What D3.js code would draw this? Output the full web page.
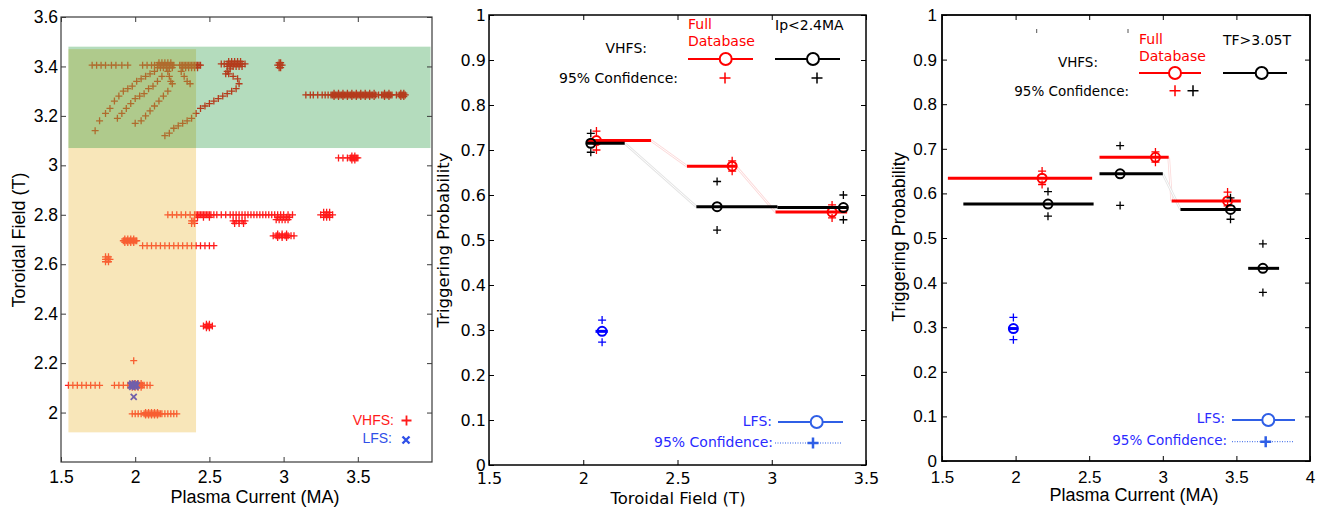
<!DOCTYPE html>
<html>
<head>
<meta charset="utf-8">
<style>
  body { margin: 0; background: #fff; }
  svg { display: block; }
</style>
</head>
<body>
<div id="elm"></div>
<script src="https://d3js.org/d3.v7.min.js"></script>
<script>
'use strict';

var width = 1324, height = 511;

// ---------- left panel: shots in (Ip, TF) ----------
// rows of VHFS shots: [TF, [Ip values]]
var vhfsRows = [
  [3.405, [1.71, 1.74, 1.77, 1.80, 1.84, 1.87, 1.91, 1.95]],
  [3.405, [2.05, 2.08, 2.11, 2.13, 2.15, 2.16, 2.17, 2.18, 2.19, 2.20, 2.21, 2.22, 2.23, 2.24, 2.25, 2.26]],
  [3.395, [2.15, 2.17, 2.19, 2.21, 2.23, 2.25]],
  [3.415, [2.16, 2.18, 2.20, 2.22, 2.24]],
  [3.405, [2.30, 2.31, 2.32, 2.33, 2.34, 2.35, 2.36, 2.37, 2.38, 2.39, 2.40, 2.41, 2.42, 2.43, 2.44]],
  [3.395, [2.32, 2.34, 2.36, 2.38, 2.40, 2.42]],
  [3.41, [2.58, 2.60, 2.62, 2.63, 2.64, 2.65, 2.66, 2.67, 2.68, 2.69, 2.70, 2.71, 2.72, 2.74]],
  [3.40, [2.62, 2.64, 2.66, 2.68, 2.70, 2.72]],
  [3.42, [2.63, 2.65, 2.67, 2.69, 2.71]],
  [3.405, [2.96, 2.97, 2.98, 2.99]],
  [3.395, [2.97, 2.98]],
  [3.415, [2.97, 2.98]],
  [3.285, [3.15, 3.18, 3.20, 3.23, 3.26, 3.28, 3.30, 3.32, 3.33, 3.34, 3.35, 3.36, 3.37, 3.38, 3.39, 3.40, 3.41, 3.42, 3.43, 3.44, 3.45, 3.46, 3.47, 3.48, 3.49, 3.50, 3.51, 3.52, 3.53, 3.54, 3.55, 3.56, 3.57, 3.58, 3.59, 3.60, 3.62, 3.64, 3.66, 3.67, 3.68, 3.69, 3.70, 3.71, 3.72, 3.73, 3.76, 3.78, 3.79, 3.80, 3.81, 3.82]],
  [3.278, [3.34, 3.37, 3.40, 3.43, 3.46, 3.49, 3.52, 3.55, 3.58, 3.61, 3.68, 3.71, 3.79, 3.81]],
  [3.292, [3.34, 3.37, 3.40, 3.43, 3.46, 3.49, 3.52, 3.55, 3.58, 3.61, 3.68, 3.71, 3.79, 3.81]],
  [3.03, [3.37, 3.40, 3.43, 3.45, 3.46, 3.47, 3.48, 3.49, 3.50]],
  [3.022, [3.46, 3.48]],
  [3.038, [3.46, 3.48]],
  [2.80, [2.22, 2.25, 2.28, 2.31, 2.34, 2.37, 2.40, 2.41, 2.42, 2.43, 2.44, 2.45, 2.46, 2.47, 2.48, 2.49, 2.50, 2.51, 2.53, 2.55, 2.58, 2.61, 2.64, 2.66, 2.68, 2.70, 2.72, 2.74, 2.76, 2.78, 2.80, 2.82, 2.84, 2.86, 2.88, 2.90, 2.92, 2.94, 2.96, 2.98, 3.00, 3.03, 3.06]],
  [2.79, [2.42, 2.46, 2.50, 2.96, 2.98, 3.00, 3.02, 3.04]],
  [2.78, [2.95, 2.97, 2.99, 3.01, 3.03]],
  [2.775, [2.38, 2.39, 2.40, 2.66, 2.68, 2.70, 2.72, 2.74]],
  [2.765, [2.38, 2.40, 2.67, 2.70, 2.73]],
  [2.80, [3.25, 3.27, 3.28, 3.29, 3.30, 3.31, 3.33]],
  [2.79, [3.27, 3.29, 3.31]],
  [2.81, [3.27, 3.29, 3.31]],
  [2.715, [2.93, 2.95, 2.97, 2.99, 3.01, 3.03, 3.05, 3.07]],
  [2.708, [2.96, 2.99, 3.02]],
  [2.722, [2.96, 2.99, 3.02]],
  [2.695, [1.92, 1.93, 1.94, 1.95, 1.96, 1.97, 1.98, 1.99, 2.00, 2.01]],
  [2.688, [1.93, 1.95, 1.97, 1.99]],
  [2.702, [1.93, 1.95, 1.97, 1.99]],
  [2.675, [2.05, 2.08, 2.11, 2.14, 2.17, 2.20, 2.23, 2.26, 2.29, 2.32, 2.35, 2.38, 2.41, 2.44, 2.47, 2.50, 2.53]],
  [2.62, [1.80, 1.81, 1.82, 1.83]],
  [2.61, [1.80, 1.82]],
  [2.63, [1.80, 1.82]],
  [2.35, [2.46, 2.48, 2.49, 2.50, 2.52]],
  [2.343, [2.48, 2.50]],
  [2.357, [2.48, 2.50]],
  [2.21, [1.99]],
  [2.11, [1.55, 1.58, 1.61, 1.64, 1.67, 1.70, 1.73, 1.76, 1.86, 1.89, 1.92, 1.95, 1.97, 1.98, 1.99, 2.00, 2.01, 2.02, 2.03, 2.04, 2.05, 2.06, 2.08, 2.10]],
  [2.118, [1.98, 2.00, 2.02, 2.04]],
  [2.102, [1.98, 2.00, 2.02, 2.04]],
  [1.995, [1.98, 2.00, 2.02, 2.04, 2.06, 2.07, 2.08, 2.09, 2.10, 2.11, 2.12, 2.13, 2.14, 2.15, 2.16, 2.17, 2.18, 2.20, 2.22, 2.24, 2.26, 2.28]],
  [1.99, [2.07, 2.09, 2.11, 2.13, 2.15]],
  [2.00, [2.07, 2.09, 2.11, 2.13, 2.15]]
];

// ramp-up trails of VHFS shots: [Ip, TF]
var vhfsTrails = [
  [1.73, 3.14], [1.76, 3.18], [1.80, 3.21], [1.83, 3.23], [1.86, 3.26], [1.89, 3.28], [1.92, 3.30],
  [1.95, 3.31], [1.98, 3.32], [2.01, 3.34], [2.04, 3.35], [2.07, 3.36], [2.10, 3.37], [2.13, 3.38],
  [1.88, 3.19], [1.91, 3.21], [1.94, 3.23], [1.97, 3.25], [2.00, 3.27], [2.03, 3.28], [2.06, 3.29],
  [2.09, 3.31], [2.12, 3.32], [2.15, 3.34], [2.18, 3.36],
  [2.00, 3.17], [2.04, 3.18], [2.07, 3.20], [2.10, 3.22], [2.13, 3.24], [2.16, 3.26], [2.19, 3.28], [2.22, 3.30],
  [2.22, 3.38], [2.23, 3.36], [2.24, 3.34], [2.25, 3.33],
  [2.31, 3.38], [2.33, 3.36], [2.35, 3.34], [2.37, 3.33],
  [2.20, 3.12], [2.23, 3.13], [2.26, 3.15], [2.29, 3.16], [2.32, 3.17], [2.35, 3.18], [2.38, 3.19],
  [2.41, 3.21], [2.44, 3.23], [2.47, 3.24], [2.50, 3.25], [2.53, 3.26], [2.56, 3.27], [2.59, 3.28],
  [2.62, 3.29], [2.65, 3.30], [2.68, 3.31], [2.70, 3.33], [2.69, 3.35], [2.66, 3.36], [2.63, 3.37],
  [2.61, 3.37], [2.62, 3.38], [2.64, 3.39]
];

var lfsShots = [
  [1.97, 2.11], [1.98, 2.11], [1.99, 2.11], [2.00, 2.11], [2.01, 2.11],
  [1.98, 2.104], [2.00, 2.104], [1.98, 2.117], [2.00, 2.117], [1.99, 2.063]
];

// shaded subsets: [Ip0, Ip1, TF0, TF1]
var shadeLowIp = [1.55, 2.41, 1.92, 3.47];
var shadeHighTf = [1.55, 3.99, 3.07, 3.48];

// ---------- middle panel: probability vs toroidal field ----------
var tfFull = [
  { x0: 2.02, x1: 2.36, p: 0.721, xc: 2.07, lo: 0.700, hi: 0.742 },
  { x0: 2.55, x1: 2.81, p: 0.664, xc: 2.79, lo: 0.653, hi: 0.676 },
  { x0: 3.02, x1: 3.40, p: 0.562, xc: 3.32, lo: 0.549, hi: 0.578 }
];
var tfLowIp = [
  { x0: 2.02, x1: 2.22, p: 0.715, xc: 2.04, lo: 0.695, hi: 0.737 },
  { x0: 2.60, x1: 3.03, p: 0.574, xc: 2.71, lo: 0.522, hi: 0.630 },
  { x0: 3.03, x1: 3.40, p: 0.572, xc: 3.38, lo: 0.545, hi: 0.600 }
];
var tfLfs = [
  { x0: 2.065, x1: 2.13, p: 0.297, xc: 2.10, lo: 0.273, hi: 0.322 }
];

// ---------- right panel: probability vs plasma current ----------
var ipFull = [
  { x0: 1.54, x1: 2.52, p: 0.634, xc: 2.18, lo: 0.620, hi: 0.650 },
  { x0: 2.57, x1: 3.04, p: 0.681, xc: 2.95, lo: 0.670, hi: 0.693 },
  { x0: 3.06, x1: 3.53, p: 0.583, xc: 3.44, lo: 0.572, hi: 0.603 }
];
var ipHighTf = [
  { x0: 1.645, x1: 2.53, p: 0.576, xc: 2.22, lo: 0.549, hi: 0.604 },
  { x0: 2.57, x1: 3.00, p: 0.644, xc: 2.71, lo: 0.573, hi: 0.707 },
  { x0: 3.12, x1: 3.53, p: 0.564, xc: 3.46, lo: 0.542, hi: 0.590 },
  { x0: 3.58, x1: 3.79, p: 0.432, xc: 3.68, lo: 0.378, hi: 0.487 }
];
var ipLfs = [
  { x0: 1.95, x1: 2.01, p: 0.297, xc: 1.985, lo: 0.272, hi: 0.322 }
];

var probTicks = [0, 0.1, 0.2, 0.3, 0.4, 0.5, 0.6, 0.7, 0.8, 0.9, 1];

var RED = '#ff0000', BLUE = '#0000ff', LBLUE = '#2f5fe6';
var DEJAVU = '"DejaVu Sans", sans-serif', ARIAL = '"Liberation Sans", Arial, sans-serif';

var svg = d3.select('#elm').append('svg').attr('width', width).attr('height', height);

function plus(a) { return 'M' + (-a) + ',0H' + a + 'M0,' + (-a) + 'V' + a; }
function cross(a) { return 'M' + (-a) + ',' + (-a) + 'L' + a + ',' + a + 'M' + (-a) + ',' + a + 'L' + a + ',' + (-a); }
function fmt(d) { return String(+d.toFixed(2)); }

function panel(o) {
  var g = svg.append('g').attr('transform', 'translate(' + o.left + ',' + o.top + ')');
  var x = d3.scaleLinear().domain(o.xd).range([0, o.w]);
  var y = d3.scaleLinear().domain(o.yd).range([o.h, 0]);
  return { g: g, x: x, y: y, w: o.w, h: o.h };
}

function frame(p, s) {
  var axes = p.g.append('g');
  axes.append('g').attr('transform', 'translate(0,' + p.h + ')')
    .call(d3.axisBottom(p.x).tickValues(s.xt).tickFormat(fmt).tickSize(-5).tickPadding(s.xpad));
  axes.append('g')
    .call(d3.axisTop(p.x).tickValues(s.xt).tickFormat(function() { return ''; }).tickSize(-5));
  axes.append('g')
    .call(d3.axisLeft(p.y).tickValues(s.yt).tickFormat(fmt).tickSize(-5).tickPadding(s.ypad));
  axes.append('g').attr('transform', 'translate(' + p.w + ',0)')
    .call(d3.axisRight(p.y).tickValues(s.yt).tickFormat(function() { return ''; }).tickSize(-5));
  axes.selectAll('.domain').remove();
  axes.selectAll('.tick line').attr('stroke', s.color);
  axes.selectAll('text').attr('font-family', s.font).attr('font-size', s.size).attr('fill', '#000');
  p.g.append('rect').attr('width', p.w).attr('height', p.h)
    .attr('fill', 'none').attr('stroke', s.color).attr('stroke-width', s.sw);
}

function label(p, s) {
  svg.append('text').attr('x', s.x[0]).attr('y', s.x[1]).attr('text-anchor', 'middle')
    .attr('font-family', s.font).attr('font-size', s.size).text(s.xText);
  svg.append('text').attr('transform', 'translate(' + s.y[0] + ',' + s.y[1] + ') rotate(-90)')
    .attr('text-anchor', 'middle').attr('font-family', s.font).attr('font-size', s.size).text(s.yText);
}

// faint double guide lines between consecutive bins
function links(p, data, pairs, color) {
  pairs.forEach(function(pr) {
    var a = data[pr[0]], b = data[pr[1]];
    [[color, 2.6], ['#fff', 1]].forEach(function(st) {
      p.g.append('line')
        .attr('x1', p.x(a.x1)).attr('y1', p.y(a.p)).attr('x2', p.x(b.x0)).attr('y2', p.y(b.p))
        .attr('stroke', st[0]).attr('stroke-width', st[1]);
    });
  });
}

function bins(p, data, color) {
  var g = p.g.append('g');
  g.selectAll('line').data(data).enter().append('line')
    .attr('x1', function(d) { return p.x(d.x0); }).attr('x2', function(d) { return p.x(d.x1); })
    .attr('y1', function(d) { return p.y(d.p); }).attr('y2', function(d) { return p.y(d.p); })
    .attr('stroke', color).attr('stroke-width', 3);
  g.selectAll('circle').data(data).enter().append('circle')
    .attr('cx', function(d) { return p.x(d.xc); }).attr('cy', function(d) { return p.y(d.p); })
    .attr('r', 4.5).attr('fill', 'none').attr('stroke', color).attr('stroke-width', 2);
  var ci = [];
  data.forEach(function(d) { ci.push([d.xc, d.lo], [d.xc, d.hi]); });
  g.selectAll('path').data(ci).enter().append('path')
    .attr('transform', function(d) { return 'translate(' + p.x(d[0]) + ',' + p.y(d[1]) + ')'; })
    .attr('d', plus(4)).attr('stroke', color).attr('stroke-width', 1.3);
}

function txt(x, y, t, o) {
  return svg.append('text').attr('x', x).attr('y', y).text(t)
    .attr('font-family', o.font || DEJAVU).attr('font-size', o.size || 14)
    .attr('fill', o.color || '#000').attr('text-anchor', o.anchor || 'start');
}
function seg(x1, x2, y, color, w, dash) {
  svg.append('line').attr('x1', x1).attr('x2', x2).attr('y1', y).attr('y2', y)
    .attr('stroke', color).attr('stroke-width', w).attr('stroke-dasharray', dash || null);
}
function ring(x, y, color, r) {
  svg.append('circle').attr('cx', x).attr('cy', y).attr('r', r).attr('fill', '#fff')
    .attr('stroke', color).attr('stroke-width', 2);
}
function mark(x, y, d, color, w) {
  svg.append('path').attr('transform', 'translate(' + x + ',' + y + ')').attr('d', d)
    .attr('stroke', color).attr('stroke-width', w).attr('fill', 'none');
}

// ================= LEFT =================
var L = panel({ left: 61, top: 17, w: 371, h: 445, xd: [1.5, 4], yd: [1.8, 3.6] });
var shots = [];
vhfsRows.forEach(function(r) { r[1].forEach(function(v) { shots.push([v, r[0]]); }); });
vhfsTrails.forEach(function(d) { shots.push(d); });

L.g.append('g').selectAll('path').data(shots).enter().append('path')
  .attr('transform', function(d) { return 'translate(' + L.x(d[0]) + ',' + L.y(d[1]) + ')'; })
  .attr('d', plus(3.5)).attr('stroke', '#ff1a1a').attr('stroke-width', 1.3).attr('fill', 'none');
L.g.append('g').selectAll('path').data(lfsShots).enter().append('path')
  .attr('transform', function(d) { return 'translate(' + L.x(d[0]) + ',' + L.y(d[1]) + ')'; })
  .attr('d', cross(3)).attr('stroke', '#1a1ae6').attr('stroke-width', 1.8).attr('fill', 'none');

function shade(s, color, op) {
  L.g.append('rect').attr('x', L.x(s[0])).attr('width', L.x(s[1]) - L.x(s[0]))
    .attr('y', L.y(s[3])).attr('height', L.y(s[2]) - L.y(s[3]))
    .attr('fill', color).attr('fill-opacity', op);
}
shade(shadeLowIp, 'rgb(238,194,84)', 0.41);
shade(shadeHighTf, 'rgb(5,138,38)', 0.3);

frame(L, { xt: [1.5, 2, 2.5, 3, 3.5], yt: [2, 2.2, 2.4, 2.6, 2.8, 3, 3.2, 3.4, 3.6],
  xpad: 9, ypad: 3, color: '#3a3a3a', sw: 1.2, font: ARIAL, size: 17.5 });
label(L, { font: ARIAL, size: 18, xText: 'Plasma Current (MA)', x: [255, 503],
  yText: 'Toroidal Field (T)', y: [25, 240] });

txt(394, 425, 'VHFS:', { font: ARIAL, size: 14, color: '#ff1a1a', anchor: 'end' });
mark(406.5, 420.5, plus(5), '#ff1a1a', 1.8);
txt(392, 443, 'LFS:', { font: ARIAL, size: 14, color: '#3050e8', anchor: 'end' });
mark(406, 440, cross(3.5), '#3050e8', 2.4);

// ================= MIDDLE =================
var M = panel({ left: 489, top: 15, w: 377, h: 450, xd: [1.5, 3.5], yd: [0, 1] });
frame(M, { xt: [1.5, 2, 2.5, 3, 3.5], yt: probTicks, xpad: 8, ypad: 3,
  color: '#000', sw: 1.5, font: DEJAVU, size: 16 });
label(M, { font: DEJAVU, size: 16.5, xText: 'Toroidal Field (T)', x: [678, 504],
  yText: 'Triggering Probability', y: [449, 240] });
links(M, tfFull, [[0, 1], [1, 2]], '#fcdada');
links(M, tfLowIp, [[0, 1]], '#e4e4e4');
bins(M, tfFull, RED);
bins(M, tfLowIp, '#000');
bins(M, tfLfs, BLUE);

txt(688, 29, 'Full', { color: RED });
txt(688, 46, 'Database', { color: RED });
txt(775, 30, 'Ip<2.4MA', {});
txt(647, 53, 'VHFS:', { anchor: 'end' });
seg(688, 753, 59, RED, 2); ring(725.7, 59, RED, 6);
seg(775, 840, 59, '#000', 2); ring(813, 59, '#000', 6);
txt(678, 83, '95% Confidence:', { anchor: 'end' });
mark(725, 78, plus(5.5), RED, 1.5);
mark(817, 78, plus(5.5), '#000', 1.5);

txt(772, 426, 'LFS:', { color: '#2a2aff', anchor: 'end' });
seg(778, 843, 422, LBLUE, 2); ring(816.7, 422, LBLUE, 6);
txt(773, 447, '95% Confidence:', { color: '#2a2aff', anchor: 'end' });
seg(775, 842, 443, LBLUE, 1, '1,1.5');
mark(813, 443, plus(5.5), LBLUE, 2.5);

// ================= RIGHT =================
var R = panel({ left: 942, top: 15, w: 368, h: 446, xd: [1.5, 4], yd: [0, 1] });
frame(R, { xt: [1.5, 2, 2.5, 3, 3.5, 4], yt: probTicks, xpad: 10, ypad: 5,
  color: '#000', sw: 1.8, font: ARIAL, size: 17 });
label(R, { font: ARIAL, size: 18, xText: 'Plasma Current (MA)', x: [1134, 501],
  yText: 'Triggering Probability', y: [905, 237] });
links(R, ipFull, [[1, 2]], '#fcdada');
links(R, ipHighTf, [[1, 2]], '#e4e4e4');
bins(R, ipFull, RED);
bins(R, ipHighTf, '#000');
bins(R, ipLfs, BLUE);

// stray tick marks near the top
[1036.7, 1128].forEach(function(x) {
  svg.append('line').attr('x1', x).attr('x2', x).attr('y1', 29).attr('y2', 33)
    .attr('stroke', '#555').attr('stroke-width', 1);
});

txt(1139, 44, 'Full', { color: RED, size: 14 });
txt(1139, 61, 'Database', { color: RED, size: 14 });
txt(1223, 45, 'TF>3.05T', { size: 14 });
txt(1098, 67, 'VHFS:', { size: 13.5, anchor: 'end' });
seg(1139, 1201, 73, RED, 2); ring(1175, 73, RED, 6);
seg(1223, 1287, 73, '#000', 2); ring(1261.7, 73, '#000', 6);
txt(1129, 96, '95% Confidence:', { size: 13.5, anchor: 'end' });
mark(1175, 90.7, plus(5.5), RED, 1.5);
mark(1193, 90.7, plus(5.5), '#000', 1.5);

txt(1225, 423, 'LFS:', { color: '#2a2aff', size: 13.5, anchor: 'end' });
seg(1232, 1295, 420, LBLUE, 2); ring(1268.3, 420, LBLUE, 6);
txt(1227, 445, '95% Confidence:', { color: '#2a2aff', size: 13.5, anchor: 'end' });
seg(1232, 1293, 441.7, LBLUE, 1, '1,1.5');
mark(1265.7, 441.7, plus(5.5), LBLUE, 2.5);
</script>
</body>
</html>
